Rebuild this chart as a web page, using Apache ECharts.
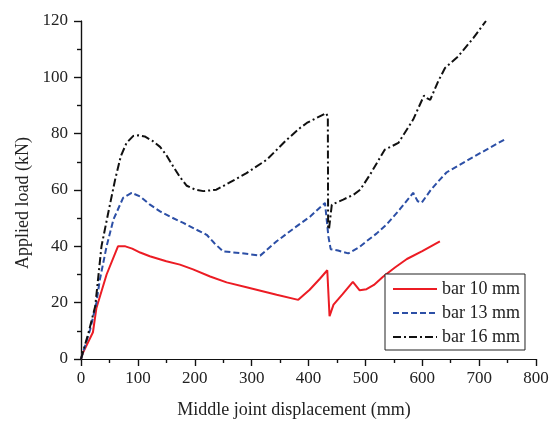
<!DOCTYPE html>
<html>
<head>
<meta charset="utf-8">
<script src="https://cdn.jsdelivr.net/npm/echarts@6/dist/echarts.min.js"></script>
<style>html,body{margin:0;padding:0;background:#fff}#c{width:553px;height:428px}</style>
</head>
<body>
<div id="c"></div>
<script>
var seriesNames = ['bar 10 mm', 'bar 13 mm', 'bar 16 mm'];
var xTitle = 'Middle joint displacement (mm)';
var yTitle = 'Applied load (kN)';

var bar10 = [[0,0],[3,2],[21,9.5],[27,18],[45,30],[65,40],[78,40],[90,39.2],[104,37.8],[121,36.5],[150,34.7],[174,33.5],[197,31.8],[227,29.3],[256,27.2],[291,25.5],[344,22.8],[382,21],[402,24.6],[420,28.5],[433,31.5],[437,15.2],[444,19.3],[460,23],[478,27.4],[490,24.4],[502,24.8],[515,26.3],[531,29.2],[552,32.5],[573,35.5],[600,38.3],[631,41.8]];

var bar13 = [[0,0],[16,10.4],[27,19.9],[33,28],[45,40],[57,49.5],[74,57.2],[89,59],[104,57.7],[120,55],[139,52.4],[160,50.2],[180,48.3],[200,46.2],[221,44.1],[235,41],[250,38.2],[280,37.6],[315,36.7],[344,41.8],[375,46.5],[403,50.6],[429,55.4],[435,43.5],[439,39],[452,38.5],[470,37.5],[490,39.8],[502,41.8],[520,44.6],[537,47.7],[560,53],[584,59],[592,56],[599,55.5],[615,60],[631,63.7],[643,66.3],[680,70.6],[710,74],[748,78.3]];

var bar16 = [[0,0],[13,9.2],[25,18.7],[36,40],[48,52],[60,63.7],[70,72],[80,76.7],[92,79.2],[101,79.4],[112,79],[126,77.4],[139,75.3],[150,72.4],[162,68.4],[174,64.6],[186,61.5],[200,60.2],[215,59.6],[238,60.1],[260,62.5],[291,66],[327,70.8],[362,77.9],[385,82],[397,83.8],[431,87.3],[434,86],[434.5,47],[436,46],[441,54.8],[461,56.6],[479,58.3],[491,60.1],[508,65.4],[534,74.3],[558,76.7],[584,85],[603,93.5],[609,92.5],[614,92],[628,98.6],[640,103.3],[663,107.4],[690,114],[712,120]];

var FONT = '"Liberation Serif", "Times New Roman", serif';
var axisLine = {show: true, lineStyle: {color: '#111', width: 1.2}};

function xAx(pos, showLabel, inside) {
  return {
    type: 'value', position: pos, min: 0, max: 800, interval: 100,
    axisLine: axisLine,
    axisTick: {show: true, inside: inside, length: 7, lineStyle: {color: '#111', width: 1.2}},
    minorTick: {show: true, splitNumber: 2, length: 4, lineStyle: {color: '#111', width: 1.2}},
    axisLabel: {show: showLabel, margin: 11, fontFamily: FONT, fontSize: 17, color: '#222'},
    splitLine: {show: false}
  };
}
function yAx(pos, showLabel, inside) {
  return {
    type: 'value', position: pos, min: 0, max: 120, interval: 20,
    axisLine: axisLine,
    axisTick: {show: true, inside: inside, length: 7, lineStyle: {color: '#111', width: 1.2}},
    minorTick: {show: true, splitNumber: 2, length: 4, lineStyle: {color: '#111', width: 1.2}},
    axisLabel: {show: showLabel, margin: 13, fontFamily: FONT, fontSize: 17, color: '#222'},
    splitLine: {show: false}
  };
}

var chart = echarts.init(document.getElementById('c'), null, {renderer: 'canvas'});
chart.setOption({
  animation: false,
  backgroundColor: '#fff',
  grid: {left: 81, right: 17, top: 21, bottom: 69},
  xAxis: [xAx('bottom', true, false), xAx('top', false, true)],
  yAxis: [yAx('left', true, false), yAx('right', false, true)],
  legend: {
    orient: 'vertical', left: 385, top: 274,
    padding: [5, 5, 3, 7], itemGap: 4, itemWidth: 44, itemHeight: 14,
    borderColor: '#222', borderWidth: 1, backgroundColor: '#fff',
    itemStyle: {opacity: 0},
    textStyle: {fontFamily: FONT, fontSize: 18, color: '#222', lineHeight: 20},
    data: seriesNames
  },
  graphic: [
    {type: 'text', x: 294, y: 410, style: {text: xTitle, font: '18px ' + FONT, fill: '#222', align: 'center', verticalAlign: 'middle'}},
    {type: 'text', x: 23, y: 203, rotation: Math.PI / 2, style: {text: yTitle, font: '18px ' + FONT, fill: '#222', align: 'center', verticalAlign: 'middle'}}
  ],
  series: [
    {name: seriesNames[0], type: 'line', data: bar10, showSymbol: false, symbol: 'none', clip: true,
     lineStyle: {color: '#ec1c24', width: 2, type: 'solid'}, itemStyle: {color: '#ec1c24'}},
    {name: seriesNames[1], type: 'line', data: bar13, showSymbol: false, symbol: 'none', clip: true,
     lineStyle: {color: '#2c4fa6', width: 2, type: [6, 3]}, itemStyle: {color: '#2c4fa6'}},
    {name: seriesNames[2], type: 'line', data: bar16, showSymbol: false, symbol: 'none', clip: true,
     lineStyle: {color: '#111', width: 2, type: [8, 3, 2, 3]}, itemStyle: {color: '#111'}}
  ]
});
</script>
</body>
</html>
